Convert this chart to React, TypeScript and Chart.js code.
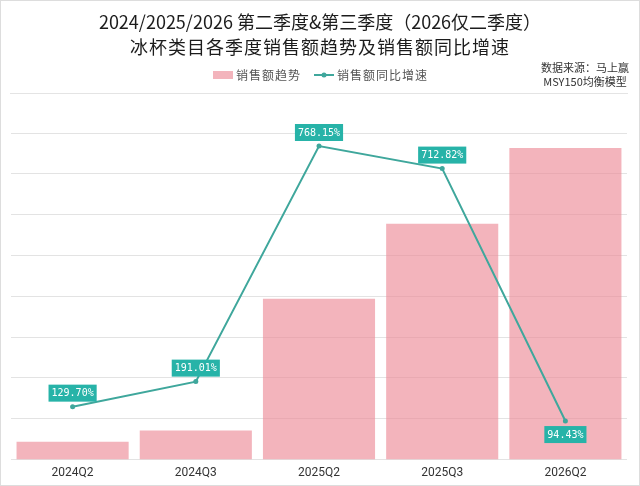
import React, { useEffect, useRef } from "react";
import { Chart, registerables } from "chart.js";

Chart.register(...registerables);

const categories = ["2024Q2", "2024Q3", "2025Q2", "2025Q3", "2026Q2"];
const salesTrend = [0.44, 0.71, 3.94, 5.78, 7.63];
const yoyGrowth = [129.7, 191.01, 768.15, 712.82, 94.43];
const titleLines = [
  "2024/2025/2026 第二季度&第三季度（2026仅二季度）",
  "冰杯类目各季度销售额趋势及销售额同比增速",
];
const legendLabels = ["销售额趋势", "销售额同比增速"];
const sourceLines = ["数据来源：马上赢", "MSY150均衡模型"];

const BAR_COLOR = "rgba(236,140,152,0.65)";
const LINE_COLOR = "#3fa79c";
const BOX_COLOR = "#27b3a8";
const CJK = "'Noto Sans CJK SC', 'Noto Sans', sans-serif";

const framePlugin = {
  id: "frame",
  beforeDraw(chart: any) {
    const ctx = chart.ctx;
    ctx.save();
    ctx.fillStyle = "#ffffff";
    ctx.fillRect(0, 0, chart.width, chart.height);
    ctx.restore();
  },
  afterDraw(chart: any) {
    const ctx = chart.ctx;
    ctx.save();
    ctx.strokeStyle = "#dddddd";
    ctx.lineWidth = 1;
    ctx.strokeRect(0.5, 0.5, chart.width - 1, chart.height - 1);
    ctx.restore();
  },
};

const headerPlugin = {
  id: "header",
  afterDraw(chart: any) {
    const ctx = chart.ctx;
    ctx.save();
    ctx.textAlign = "center";
    ctx.textBaseline = "middle";
    ctx.fillStyle = "#1c1c1c";
    ctx.font = `18px ${CJK}`;
    ctx.fillText(titleLines[0], 320, 22);
    (ctx as any).letterSpacing = "1px";
    ctx.font = `18px ${CJK}`;
    ctx.fillText(titleLines[1], 320, 47);

    // legend
    ctx.textAlign = "left";
    ctx.font = `12px ${CJK}`;
    ctx.fillStyle = BAR_COLOR;
    ctx.fillRect(213, 71, 20, 8);
    ctx.fillStyle = "#555";
    ctx.fillText(legendLabels[0], 236, 75);
    ctx.strokeStyle = LINE_COLOR;
    ctx.lineWidth = 2;
    ctx.beginPath();
    ctx.moveTo(314, 75);
    ctx.lineTo(334, 75);
    ctx.stroke();
    ctx.fillStyle = LINE_COLOR;
    ctx.beginPath();
    ctx.arc(324, 75, 2.5, 0, Math.PI * 2);
    ctx.fill();
    ctx.fillStyle = "#555";
    ctx.fillText(legendLabels[1], 337, 75);

    // source
    (ctx as any).letterSpacing = "0px";
    ctx.textAlign = "center";
    ctx.font = `11px ${CJK}`;
    ctx.fillStyle = "#333";
    ctx.fillText(sourceLines[0], 585, 68);
    ctx.fillText(sourceLines[1], 585, 82);

    // separator
    ctx.strokeStyle = "#e4e4e4";
    ctx.lineWidth = 1;
    ctx.beginPath();
    ctx.moveTo(10, 93.5);
    ctx.lineTo(628, 93.5);
    ctx.stroke();
    ctx.restore();
  },
};

const valueLabelPlugin = {
  id: "valueLabels",
  afterDatasetsDraw(chart: any) {
    const meta = chart.getDatasetMeta(0);
    const ctx = chart.ctx;
    ctx.save();
    ctx.font = "10px 'DejaVu Sans Mono', monospace";
    ctx.textAlign = "center";
    ctx.textBaseline = "middle";
    meta.data.forEach((pt: any, i: number) => {
      const v = chart.data.datasets[0].data[i] as number;
      const text = v.toFixed(2) + "%";
      const w = ctx.measureText(text).width + 6;
      const h = 17;
      const below = i === meta.data.length - 1;
      const top = below ? pt.y + 5 : pt.y - 5 - h;
      ctx.fillStyle = BOX_COLOR;
      ctx.fillRect(pt.x - w / 2, top, w, h);
      ctx.fillStyle = "#ffffff";
      ctx.fillText(text, pt.x, top + h / 2 + 0.5);
    });
    ctx.restore();
  },
};

export default function App() {
  const ref = useRef<HTMLCanvasElement>(null);
  useEffect(() => {
    document.body.style.margin = "0";
    const chart = new Chart(ref.current!, {
      type: "bar",
      data: {
        labels: categories,
        datasets: [
          {
            type: "line",
            label: legendLabels[1],
            data: yoyGrowth,
            yAxisID: "y1",
            borderColor: LINE_COLOR,
            backgroundColor: LINE_COLOR,
            borderWidth: 2,
            pointRadius: 2.5,
            pointBackgroundColor: LINE_COLOR,
            pointBorderWidth: 0,
            tension: 0,
            order: 0,
          } as any,
          {
            type: "bar",
            label: legendLabels[0],
            data: salesTrend,
            yAxisID: "y",
            backgroundColor: BAR_COLOR,
            borderWidth: 0,
            barPercentage: 0.91,
            categoryPercentage: 1,
            order: 1,
          },
        ],
      },
      options: {
        animation: false,
        responsive: false,
        devicePixelRatio: 1,
        layout: { padding: { left: 11, right: 13, top: 133, bottom: 0 } },
        plugins: {
          legend: { display: false },
          title: { display: false },
          tooltip: { enabled: false },
        },
        scales: {
          x: {
            grid: { display: false, drawTicks: false },
            border: { display: false },
            ticks: {
              color: "#333",
              padding: 6,
              font: { size: 12, family: "Roboto, 'Noto Sans', sans-serif" },
            },
          },
          y: {
            display: false,
            min: 0,
            max: 8,
          },
          y1: {
            position: "left",
            min: 0,
            max: 800,
            ticks: { display: false, stepSize: 100 },
            grid: { color: "rgba(0,0,0,0.11)", drawTicks: false, lineWidth: 1 },
            border: { display: false },
          },
        },
      },
      plugins: [framePlugin, headerPlugin, valueLabelPlugin],
    });
    return () => chart.destroy();
  }, []);
  return (
    <div style={{ width: 640, height: 486 }}>
      <canvas ref={ref} width={640} height={486} style={{ display: "block" }} />
    </div>
  );
}
